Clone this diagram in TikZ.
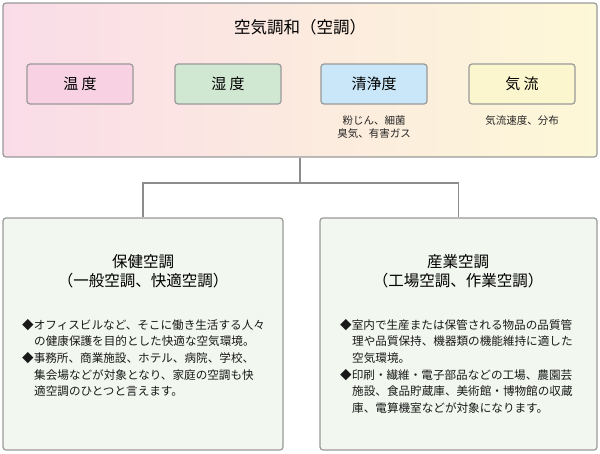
\documentclass[tikz,border=0pt]{standalone}
\usepackage{fontspec}
\setmainfont{Noto Sans CJK JP}
\begin{document}
\begin{tikzpicture}[x=1pt,y=-1pt,
  frame/.style={draw=black!40,line width=1.2pt,rounded corners=3pt},
  small/.style={frame,minimum width=106pt,minimum height=40pt,font=\fontsize{15}{17}\selectfont},
  note/.style={font=\fontsize{10.5}{13}\selectfont,align=center,text=black!85},
  body/.style={anchor=west,font=\fontsize{11.6}{13}\selectfont,inner sep=0pt,text=black!90},
  conn/.style={draw=black!45,line width=1.2pt}]
\useasboundingbox (0,0) rectangle (600,453);
\definecolor{pk}{HTML}{F8D2E3}\definecolor{gr}{HTML}{D0E7D2}
\definecolor{bl}{HTML}{C9E7F8}\definecolor{yl}{HTML}{FBF6CE}
\definecolor{bg}{HTML}{F2F7EF}
\definecolor{gl}{HTML}{FADCE8}\definecolor{gright}{HTML}{FDF8D7}
\node[frame,left color=gl,right color=gright,minimum width=594pt,minimum height=154pt] (top) at (300,80) {};
\node[font=\fontsize{16.5}{18}\selectfont] (title) at (300,27) {空気調和（空調）};
\node[small,fill=pk] (a) at (80,84) {温 度};
\node[small,fill=gr] (b) at (228,84) {湿 度};
\node[small,fill=bl] (c) at (374,84) {清浄度};
\node[small,fill=yl] (d) at (522,84) {気 流};
\node[note] (cn) at (374,127) {粉じん、細菌\\臭気、有害ガス};
\node[note] (dn) at (522,121) {気流速度、分布};
\node[frame,fill=bg,minimum width=280pt,minimum height=232pt] (L) at (143,334) {};
\node[frame,fill=bg,minimum width=277pt,minimum height=232pt] (R) at (458.5,334) {};
\coordinate (j) at (300,183);
\draw[conn] (top.south) -- (j);
\draw[conn] (L.north) |- (j) -| (R.north);
\node[font=\fontsize{15.5}{19}\selectfont,align=center] (lt) at (143,271) {保健空調\\（一般空調、快適空調）};
\node[font=\fontsize{15.5}{19}\selectfont,align=center] (rt) at (458,271) {産業空調\\（工場空調、作業空調）};
\node[body] (l1) at (22,325) {◆オフィスビルなど、そこに働き生活する人々};
\node[body] (l2) at (34,341) {の健康保護を目的とした快適な空気環境。};
\node[body] (l3) at (22,358) {◆事務所、商業施設、ホテル、病院、学校、};
\node[body] (l4) at (34,375) {集会場などが対象となり、家庭の空調も快};
\node[body] (l5) at (34,391) {適空調のひとつと言えます。};
\node[body] (r1) at (340,325) {◆室内で生産または保管される物品の品質管};
\node[body] (r2) at (352,341) {理や品質保持、機器類の機能維持に適した};
\node[body] (r3) at (352,358) {空気環境。};
\node[body] (r4) at (340,375) {◆印刷・繊維・電子部品などの工場、農園芸};
\node[body] (r5) at (352,391) {施設、食品貯蔵庫、美術館・博物館の収蔵};
\node[body] (r6) at (352,408) {庫、電算機室などが対象になります。};
\end{tikzpicture}
\end{document}
